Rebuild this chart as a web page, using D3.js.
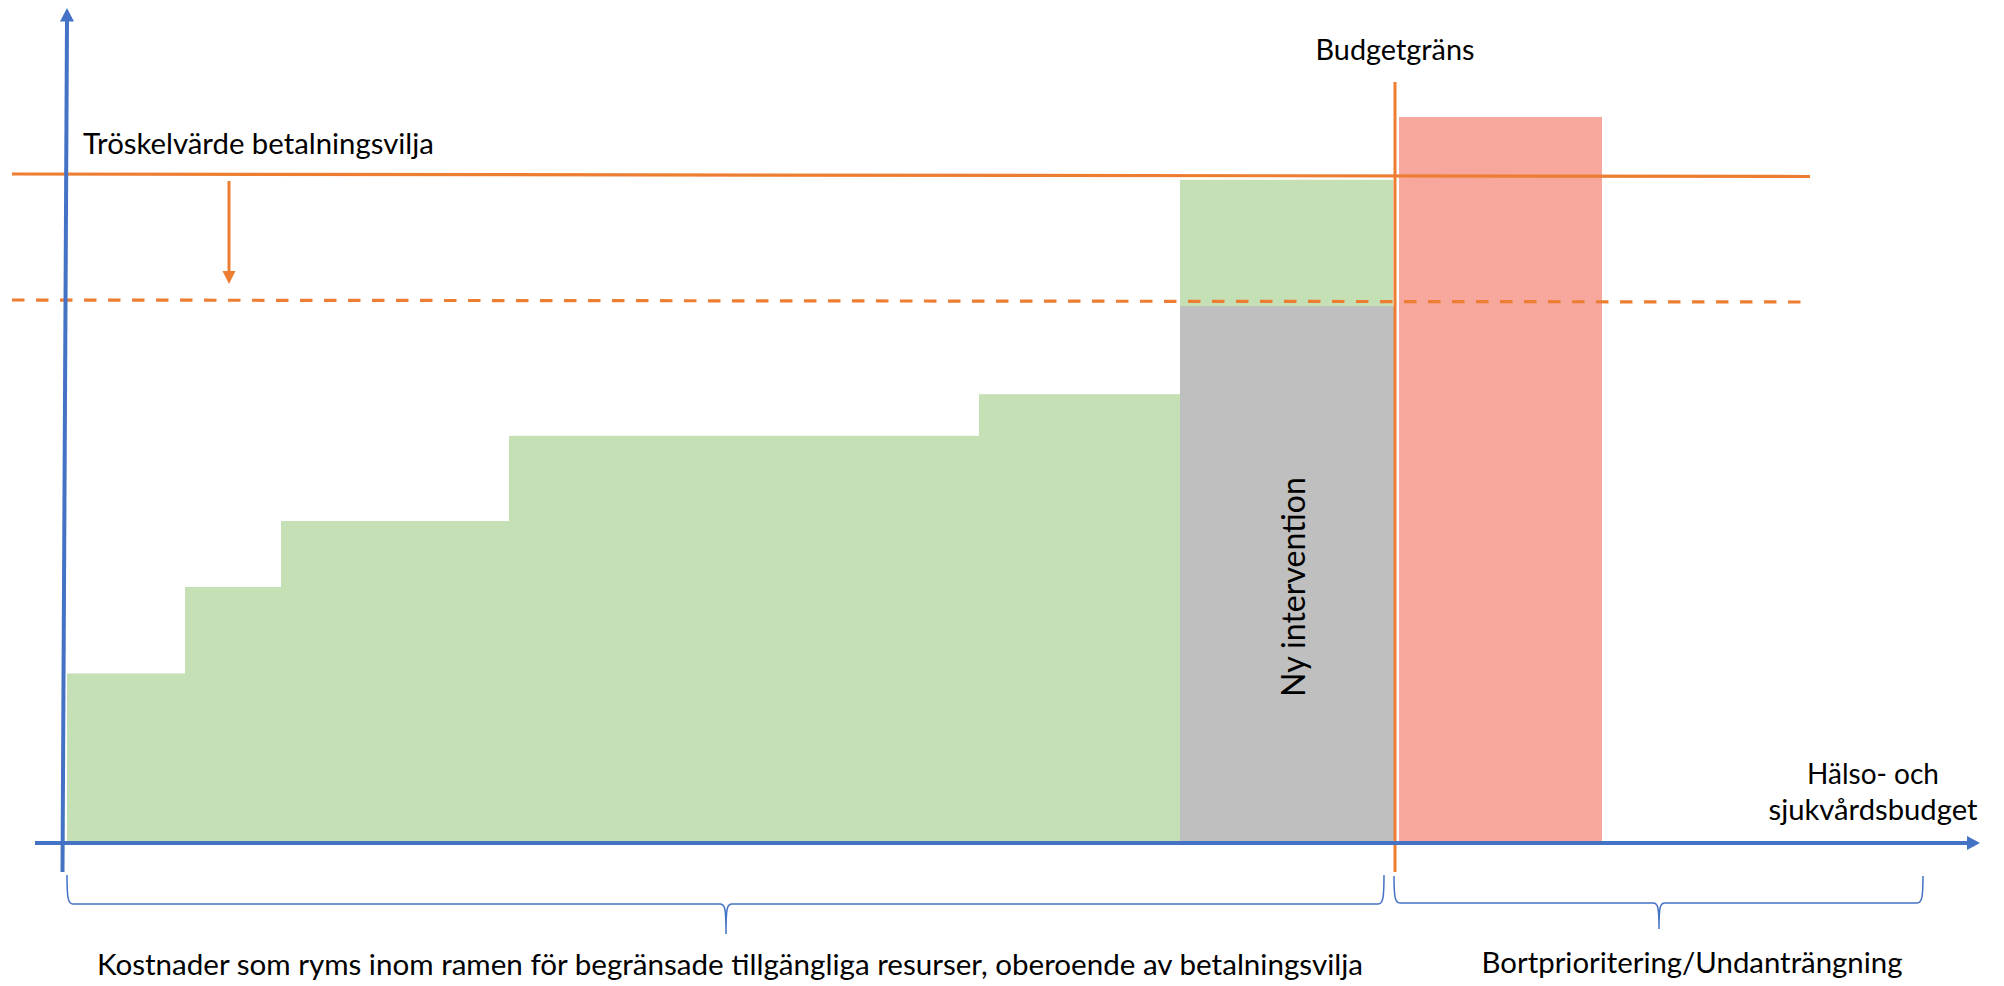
<!DOCTYPE html>
<html>
<head>
<meta charset="utf-8">
<script src="https://cdn.jsdelivr.net/npm/d3@7"></script>
<style>
  body { margin: 0; background: #fff; }
  svg text { font-family: Lato, "Open Sans", sans-serif; fill: #000; }
</style>
</head>
<body>
<div id="plot"></div>
<script>
// data (budget share on x, cost per health gain on y)

  var greenEdges   = [0, 11.8, 21.4, 44.2, 91.2, 111.3];
  var greenHeights = [21.2, 32.0, 40.25, 50.9, 56.1];

  var newStart = 111.3, newEnd = 132.9, newGreenEnd = 132.6;
  var newCost = 67.1, newCostHigh = 82.9;

  var budgetLimit = 132.8;
  var displacedStart = 133.2, displacedEnd = 153.5, displacedHeight = 90.75;

  var threshold = 83.5, thresholdLowered = 67.75;

  var labels = {
      threshold: "Tröskelvärde betalningsvilja",
      budget: "Budgetgräns",
      newInt: "Ny intervention",
      xAxis: ["Hälso- och", "sjukvårdsbudget"],
      within: "Kostnader som ryms inom ramen för begränsade tillgängliga resurser, oberoende av betalningsvilja",
      displaced: "Bortprioritering/Undanträngning"
  };

  var w = 2004;
  var h = 986;

  var blue = "#4472C4", orange = "#ED7D31";

  var xScale = d3.scaleLinear().domain([0, 190]).range([67, 1967]);
  var yScale = d3.scaleLinear().domain([0, 100]).range([843, 43]);

  var svg = d3.select("div#plot")
    .append("svg")
      .attr("width", w)
      .attr("height", h);

  svg.append("rect")
      .attr("width", w)
      .attr("height", h)
      .attr("fill", "white");

// green steps

  var steps = greenHeights.map((d, i) => ({x0: greenEdges[i], x1: greenEdges[i + 1], h: d}));

  svg.append("g")
    .selectAll("rect")
    .data(steps)
    .enter().append("rect")
      .attr("x", d => xScale(d.x0))
      .attr("y", d => yScale(d.h))
      .attr("width", d => xScale(d.x1) - xScale(d.x0))
      .attr("height", d => yScale(0) - yScale(d.h))
      .attr("fill", "#C5E0B4");

// new intervention: green upper bound, grey lowered cost

  svg.append("rect")
      .attr("x", xScale(newStart))
      .attr("y", yScale(newCostHigh))
      .attr("width", xScale(newGreenEnd) - xScale(newStart))
      .attr("height", yScale(0) - yScale(newCostHigh))
      .attr("fill", "#C5E0B4");

  svg.append("rect")
      .attr("x", xScale(newStart))
      .attr("y", yScale(newCost))
      .attr("width", xScale(newEnd) - xScale(newStart))
      .attr("height", yScale(0) - yScale(newCost))
      .attr("fill", "#BFBFBF");

// displaced bar

  svg.append("rect")
      .attr("x", xScale(displacedStart))
      .attr("y", yScale(displacedHeight))
      .attr("width", xScale(displacedEnd) - xScale(displacedStart))
      .attr("height", yScale(0) - yScale(displacedHeight))
      .attr("fill", "#F7A79B");

// threshold lines

  svg.append("line")
      .attr("x1", xScale(-5.5)).attr("x2", xScale(174.3))
      .attr("y1", yScale(threshold) - 1).attr("y2", yScale(threshold) + 1.5)
      .attr("stroke", orange)
      .attr("stroke-width", 3.2);

  svg.append("line")
      .attr("x1", xScale(-5.5)).attr("x2", xScale(173.9))
      .attr("y1", yScale(thresholdLowered) - 1).attr("y2", yScale(thresholdLowered) + 1)
      .attr("stroke", orange)
      .attr("stroke-width", 3.2)
      .attr("stroke-dasharray", "12.5 11.5");

// arrow showing lowered threshold (stops just above the dashed line)

  var ax = xScale(16.2);
  var tipY = yScale(thresholdLowered) - 17;
  svg.append("line")
      .attr("x1", ax).attr("x2", ax)
      .attr("y1", yScale(threshold) + 6).attr("y2", tipY - 12)
      .attr("stroke", orange)
      .attr("stroke-width", 3);
  svg.append("path")
      .attr("d", `M${ax - 6.5},${tipY - 13} L${ax + 6.5},${tipY - 13} L${ax},${tipY} Z`)
      .attr("fill", orange);

// budget limit line

  svg.append("line")
      .attr("x1", xScale(budgetLimit)).attr("x2", xScale(budgetLimit))
      .attr("y1", 82).attr("y2", 872)
      .attr("stroke", orange)
      .attr("stroke-width", 3);

// axes (plain arrows)

  svg.append("line")
      .attr("x1", xScale(-3.2)).attr("x2", xScale(190))
      .attr("y1", yScale(0)).attr("y2", yScale(0))
      .attr("stroke", blue)
      .attr("stroke-width", 4);
  svg.append("path")
      .attr("d", `M${xScale(190)},${yScale(0) - 7} L${xScale(190) + 13},${yScale(0)} L${xScale(190)},${yScale(0) + 7} Z`)
      .attr("fill", blue);

  svg.append("line")
      .attr("x1", 62.5).attr("x2", 67)
      .attr("y1", 872).attr("y2", 20)
      .attr("stroke", blue)
      .attr("stroke-width", 4);
  svg.append("path")
      .attr("d", "M60,21.5 L67,8 L74,21.5 Z")
      .attr("fill", blue);

// braces

  function brace(x0, x1, xc, top, mid, tip) {
      return `M${x0},${top} C${x0},${mid - 6} ${x0 + 1},${mid} ${x0 + 6},${mid}` +
             ` L${xc - 6},${mid} C${xc - 1},${mid} ${xc},${mid + 4} ${xc},${tip}` +
             ` C${xc},${mid + 4} ${xc + 1},${mid} ${xc + 6},${mid}` +
             ` L${x1 - 6},${mid} C${x1 - 1},${mid} ${x1},${mid - 6} ${x1},${top}`;
  }

  svg.append("path")
      .attr("d", brace(xScale(0), xScale(budgetLimit) - 11, 726, 875, 904, 934))
      .attr("fill", "none")
      .attr("stroke", blue)
      .attr("stroke-width", 1.5);

  svg.append("path")
      .attr("d", brace(xScale(budgetLimit) - 1, 1923, 1659, 876, 903, 929))
      .attr("fill", "none")
      .attr("stroke", blue)
      .attr("stroke-width", 1.5);

// texts, each sized to the width it has in the picture

  function fitText(sel, width) {
      sel.attr("font-size", 28);
      var len = sel.node().getComputedTextLength();
      sel.attr("font-size", 28 * width / len);
      return sel;
  }

  fitText(svg.append("text")
      .attr("x", 83).attr("y", 154)
      .text(labels.threshold), 351);

  fitText(svg.append("text")
      .attr("x", xScale(budgetLimit)).attr("y", 60)
      .attr("text-anchor", "middle")
      .text(labels.budget), 159);

  fitText(svg.append("text")
      .attr("transform", `translate(${(xScale(newStart) + xScale(newEnd)) / 2 + 17}, 587) rotate(-90)`)
      .attr("text-anchor", "middle")
      .text(labels.newInt), 220);

  fitText(svg.append("text")
      .attr("x", 1873).attr("y", 784)
      .attr("text-anchor", "middle")
      .text(labels.xAxis[0]), 132);

  fitText(svg.append("text")
      .attr("x", 1873).attr("y", 820)
      .attr("text-anchor", "middle")
      .text(labels.xAxis[1]), 209);

  fitText(svg.append("text")
      .attr("x", 730).attr("y", 975)
      .attr("text-anchor", "middle")
      .text(labels.within), 1267);

  fitText(svg.append("text")
      .attr("x", 1692).attr("y", 973)
      .attr("text-anchor", "middle")
      .text(labels.displaced), 421);

</script>
</body>
</html>
